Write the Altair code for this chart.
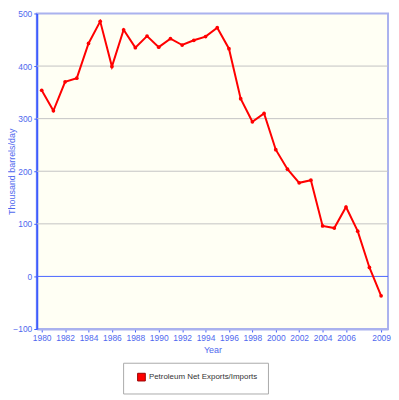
import altair as alt
import pandas as pd

years = list(range(1980, 2010))
values = [354, 315, 370, 377, 443, 485, 399, 469, 435, 457,
          436, 452, 440, 449, 456, 473, 433, 338, 294, 310,
          241, 204, 178, 183, 96, 92, 132, 86, 17, -37]
series_name = "Petroleum Net Exports/Imports"
x_ticks = [1980, 1982, 1984, 1986, 1988, 1990, 1992, 1994, 1996, 1998,
           2000, 2002, 2004, 2006, 2009]
y_ticks = [-100, 0, 100, 200, 300, 400, 500]
grid_values = [100, 200, 300, 400]
zero_value = [0]

FONT = "Liberation Sans"
BLUE_TXT = "#4f68ee"
BLUE_AXIS = "#3d5cff"
LIGHT_BORDER = "#aab2ee"

df = pd.DataFrame({"Year": years, "Value": values, "Series": [series_name] * len(years)})
grid_df = pd.DataFrame({"Value": grid_values})
zero_df = pd.DataFrame({"Value": zero_value})

x_scale = alt.Scale(domain=[1979.58, 2009.59], nice=False, zero=False)
y_scale = alt.Scale(domain=[-100, 500], nice=False, zero=False)

x_axis = alt.Axis(values=x_ticks, format="d", title="Year", grid=False,
                  tickSize=3, labelPadding=2, titlePadding=3,
                  domainColor=LIGHT_BORDER, domainWidth=2,
                  labelFlush=False, labelOverlap=False)
y_axis = alt.Axis(values=y_ticks, title="Thousand barrels/day", grid=False,
                  tickSize=3, labelPadding=2,
                  domainColor=BLUE_AXIS, domainWidth=2,
                  titleX=-20, titleBaseline="bottom", titleFontSize=9,
                  labelFlush=False, labelOverlap=False)

x_enc = alt.X("Year:Q", scale=x_scale, axis=x_axis)
y_enc = alt.Y("Value:Q", scale=y_scale, axis=y_axis)

grid = alt.Chart(grid_df).mark_rule(color="#c4c4c4", strokeWidth=1).encode(y=y_enc)

zero = alt.Chart(zero_df).mark_rule(color="#4a66ff", strokeWidth=1).encode(y=y_enc)

line = alt.Chart(df).mark_line(color="#ff0000", strokeWidth=2).encode(x=x_enc, y=y_enc)

points = alt.Chart(df).mark_circle(size=14, opacity=1).encode(
    x=x_enc, y=y_enc,
    color=alt.Color("Series:N", scale=alt.Scale(range=["#ff0000"]),
                    legend=alt.Legend(title=None, orient="none", legendX=87, legendY=352,
                                      symbolType="square", symbolSize=60,
                                      symbolStrokeColor="#990000", symbolStrokeWidth=1,
                                      symbolOffset=4, labelOffset=3,
                                      strokeColor="#aaaaaa", fillColor="white",
                                      padding=10, labelFontSize=8, labelFont=FONT,
                                      labelColor="#333333")))

chart = alt.layer(grid, zero, line, points).properties(
    width=354, height=318,
    padding={"left": 0, "top": 0, "right": 0, "bottom": 0},
).configure_view(
    fill="#fffff4", stroke=LIGHT_BORDER, strokeWidth=2
).configure_axis(
    labelFont=FONT, labelFontSize=8.5, labelColor=BLUE_TXT,
    titleFont=FONT, titleFontSize=9, titleColor=BLUE_TXT, titleFontWeight="normal",
    tickColor=BLUE_AXIS,
)

chart.save("out.html", embed_options={"renderer": "svg", "actions": False})
